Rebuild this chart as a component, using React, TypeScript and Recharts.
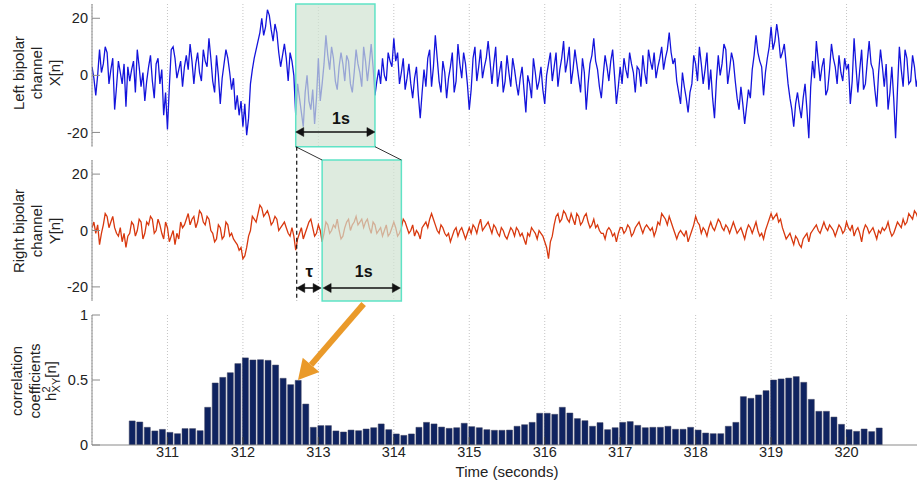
import { LineChart, BarChart, Line, Bar, XAxis, YAxis, CartesianGrid, ReferenceArea } from 'recharts'

// time base of the two EEG traces (seconds)
const T0 = 310
const STEP = 0.025

// left bipolar channel X[n] (one row per 0.5 s)
const leftChannel = [
  3, -1, -7, 0, 9, 1, 4, 10, 8, -3, 2, 6, -12, -4, 5, 1, -3, 4, -11, 3, -2,
  2, 5, -6, 9, 3, -4, 1, -9, -2, 3, 7, -2, -8, 4, 6, -3, 2, -14, -6, -19,
  -4, 9, 10, 6, -1, 2, 5, -4, 3, 7, 2, 11, 5, -3, 4, 8, 1, -2, 9, 5,
  3, 13, 6, -2, -6, 7, 0, -10, -1, 4, 9, 6, 1, -5, -1, -12, -7, -14, -9, -18,
  -10, -21, -15, -3, 2, 6, 9, 12, 15, 20, 14, 17, 23, 21, 16, 12, 18, 15, 8, 3,
  7, 11, 6, -2, 8, 5, 0, -14, -3, -8, -13, -18, -6, 0, -9, -12, -5, -17, -8, 6,
  -9, -3, 4, 14, 7, 2, 10, 6, -2, -5, 3, 8, 4, -2, 7, 5, -3, -6, 1, 9,
  4, 1, -4, 10, 5, -2, 4, 11, 3, -7, -2, 2, -3, 6, 0, -2, 8, 5, 3, 13,
  5, 8, -3, 1, 6, -5, -1, 4, -3, -8, -1, 3, -7, -15, -6, 2, -4, 6, 9, -4,
  3, 14, 6, -2, -6, 5, 1, -8, -1, 3, 8, -6, -2, 11, 4, -1, 8, 4, -3, -12,
  -5, 6, 10, -2, 3, 9, -1, 3, 6, 12, 5, -3, 4, 10, -4, 1, 5, -6, -2, 7,
  1, -4, 6, 2, -3, -7, -1, 3, -5, -13, 0, -3, -8, 6, 1, -5, -2, 3, -5, -10,
  0, 4, 8, -2, 3, 8, -4, 2, 6, 12, 1, 5, 10, -3, 2, 9, 4, -1, -6, 6,
  1, -12, -3, 4, 7, 13, 5, 2, -4, -8, 0, 7, 3, -2, 5, 9, 0, -10, -4, 3,
  -3, 6, 2, -1, 8, 4, 1, -6, 3, 2, -4, 7, 1, -3, 9, 5, 2, 8, -1, 3,
  6, 10, 2, 6, 9, 15, 8, 4, 6, -2, -6, -10, 1, -4, -8, -13, -6, -3, 7, 4,
  -2, 10, 4, -3, 2, 8, -5, 2, -8, -15, -2, 7, 0, 4, 11, 9, -3, 2, 8, 5,
  -2, -8, -12, -4, -10, -17, -11, -5, -8, 2, 7, 14, 8, 5, 3, -7, 1, 6, 10, 17,
  9, 12, 18, 13, 6, 8, 11, 4, -3, -8, -12, -18, -10, -6, -11, -15, -8, -3, -12, -22,
  -4, 5, -1, 12, 5, -2, 3, 6, -7, -5, 2, 11, 6, 3, -3, 7, 1, -2, 6, 2,
  4, -10, -2, 13, 3, -6, 2, 9, -5, -3, 5, 12, 4, 2, -5, -11, 1, 9, 3, -4,
  4, -12, -6, 3, -8, -22, -5, 10, 2, -4, 9, 6, -3, -2, 7, 3, -4, 0, 5, 1,
]

// right bipolar channel Y[n], middle panel
const rightChannel = [
  1, 3, -1, 2, -5, -1, 2, 6, 5, 1, 3, 5, 1, -1, -2, 1, -4, -1, -6, -2, -1,
  3, 2, -2, 0, 4, 3, -3, -1, 3, 2, 5, 4, -1, 0, 4, 2, -1, -3, 3, 1,
  -4, -2, 0, -5, -1, -3, 3, 1, 2, 4, 6, 2, 4, 5, 1, 3, 7, 6, 3, 2,
  5, 4, 0, -1, -4, -3, 2, 1, -3, -2, 3, 2, -2, -1, -3, -4, -5, -7, -6, -10,
  -9, -6, -2, 0, 5, 4, 3, 6, 9, 8, 5, 6, 7, 5, 2, 3, 5, 4, 0, 1,
  2, 3, 1, -1, -2, 1, -2, -7, -3, -1, 1, -3, -1, 1, 3, 4, 1, -2, -1, 2,
  0, -4, -1, 3, 2, -1, 0, 2, 1, 4, 0, -3, -2, 1, 3, 4, 0, 2, 3, 5,
  2, 3, 4, 1, 3, 4, 1, -1, 3, 2, -1, 0, 1, -2, 0, 2, -2, -1, 1, 3,
  1, -2, -1, 1, 4, 3, 1, -1, 0, 2, -2, 0, -1, -3, 1, 2, 3, 1, 4, 6,
  4, 2, 0, -1, 2, 1, -1, -2, -1, -4, -2, 0, 1, -2, 0, 1, -1, -3, -1, 1,
  -1, 2, 1, -1, 2, 4, 0, 1, 2, 3, 1, -1, 2, 1, -1, -2, 1, 0, -2, -3,
  -1, 1, 0, -2, 1, 0, -2, -1, -3, -5, -1, -2, 1, 0, -1, -3, 0, -1, -2, -4,
  -6, -10, -4, -2, 2, 5, 6, 3, 4, 7, 6, 4, 3, 6, 4, 2, 6, 5, 2, 3,
  5, 6, 3, 1, 2, 4, 1, 2, 0, -1, -1, -3, 0, 1, 0, -2, -1, -4, -1, 1,
  1, -1, 0, 2, 1, -2, -1, 1, 2, 3, 1, -1, 1, 2, 1, 0, 1, -2, 0, 3,
  2, 6, 5, 4, 2, 5, 3, 1, -1, -3, -1, 0, -1, -2, 0, -4, -2, 0, 2, 5,
  3, 2, -1, 1, 0, -2, 1, 3, 1, 0, 2, 4, 3, 1, 0, 2, 1, -1, 1, 3,
  1, -1, 0, 1, -1, -3, 0, 2, 1, -1, 1, 3, 0, -2, -1, -3, 0, 2, 4, 6,
  4, 5, 6, 3, 4, 1, -1, -3, -2, -1, -3, -5, -2, -3, -5, -6, -3, -2, -1, -4,
  -1, 0, 1, 2, 0, -1, 1, 3, 1, 0, 2, 1, 0, -2, 0, 2, 1, -1, 0, 3,
  1, 0, 2, -2, 0, 1, -1, -4, 0, 2, 1, -1, 0, 1, -1, -3, 0, -1, 1, 0,
  1, 3, 0, -2, -1, 1, 3, 2, 1, 4, 2, 3, 6, 5, 4, 7, 6, 4, 5, 3,
]

// windowed correlation h2_XY[n], one bar every 0.1 s
const CORR_T0 = 310.53
const CORR_STEP = 0.1
const correlation = [
  0.185, 0.177, 0.136, 0.108, 0.12, 0.097, 0.087, 0.126, 0.126, 0.11,
  0.29, 0.477, 0.52, 0.556, 0.626, 0.67, 0.654, 0.656, 0.651, 0.615,
  0.513, 0.464, 0.497, 0.315, 0.136, 0.149, 0.149, 0.108, 0.1, 0.115,
  0.11, 0.123, 0.133, 0.162, 0.118, 0.085, 0.074, 0.085, 0.136, 0.174,
  0.162, 0.138, 0.128, 0.133, 0.167, 0.141, 0.133, 0.118, 0.113, 0.113,
  0.115, 0.144, 0.156, 0.174, 0.244, 0.244, 0.236, 0.29, 0.246, 0.203,
  0.187, 0.144, 0.172, 0.118, 0.133, 0.174, 0.18, 0.151, 0.133, 0.136,
  0.136, 0.144, 0.121, 0.121, 0.136, 0.115, 0.092, 0.087, 0.087, 0.144,
  0.174, 0.372, 0.359, 0.385, 0.418, 0.5, 0.508, 0.515, 0.526, 0.482,
  0.351, 0.259, 0.259, 0.215, 0.159, 0.118, 0.105, 0.123, 0.103, 0.131,
]

const timeTicks = [311, 312, 313, 314, 315, 316, 317, 318, 319, 320]
const ampTicks = [-20, 0, 20]
const corrTicks = [0, 0.5, 1]
const X_DOMAIN: [number, number] = [310, 321]

// 1 s analysis windows: X window, and Y window shifted by tau
const windowX = [312.7, 313.75]
const windowY = [313.05, 314.1]

const traceRows = leftChannel.map((v, i) => ({ t: +(T0 + i * STEP).toFixed(3), x: v, y: rightChannel[i] }))
const corrRows = correlation.map((v, i) => ({ t: +(CORR_T0 + i * CORR_STEP).toFixed(3), h: v }))

const FONT = '"Liberation Sans", Arial, sans-serif'
const W = 930
const PLOT_L = 92
const PLOT_R = 922
const frame = '#8a8a8a'
const tickStyle = { fill: '#222', fontSize: 14.5, fontFamily: FONT }
const hl = { fill: '#d0e2d2', fillOpacity: 0.7, stroke: '#5fe3c6', strokeWidth: 1.5 }

// pixel position of a time value, same mapping the charts use
const px = (t: number) => PLOT_L + ((t - X_DOMAIN[0]) / (X_DOMAIN[1] - X_DOMAIN[0])) * (PLOT_R - PLOT_L)

function Axes({ yTicks, yDomain, labels }: { yTicks: number[]; yDomain: [number, number]; labels: boolean }) {
  return [
    <CartesianGrid key="g" horizontal={false} stroke="#c4c4c4" strokeDasharray="1 2" />,
    <XAxis key="xb" dataKey="t" type="number" domain={X_DOMAIN} ticks={timeTicks} allowDataOverflow
      height={labels ? 30 : 0} tickSize={-8} tickMargin={10} stroke={frame} tickLine={{ stroke: '#444' }}
      tick={tickStyle} tickFormatter={labels ? (v: number) => String(v) : () => ''} />,
    <XAxis key="xt" xAxisId="top" orientation="top" dataKey="t" type="number" domain={X_DOMAIN} ticks={timeTicks}
      allowDataOverflow height={0} tickSize={-8} stroke={frame} tickLine={{ stroke: '#444' }} tickFormatter={() => ''} />,
    <YAxis key="yl" type="number" domain={yDomain} ticks={yTicks} width={60} tickSize={-8} tickMargin={12}
      stroke={frame} tickLine={{ stroke: frame }} tick={tickStyle} allowDataOverflow />,
    <YAxis key="yr" yAxisId="r" orientation="right" type="number" domain={yDomain} ticks={yTicks} width={0}
      tickSize={-8} stroke={frame} tickLine={{ stroke: frame }} tickFormatter={() => ''} />,
  ]
}

function DoubleArrow({ x1, x2, y }: { x1: number; x2: number; y: number }) {
  return (
    <g stroke="#111" fill="#111">
      <line x1={x1 + 4} x2={x2 - 4} y1={y} y2={y} strokeWidth={1.6} />
      <path d={`M${x1},${y} l8,-4.5 l0,9 z`} strokeWidth={0.5} />
      <path d={`M${x2},${y} l-8,-4.5 l0,9 z`} strokeWidth={0.5} />
    </g>
  )
}

function YLabel({ lines, x, y }: { lines: string[]; x: number; y: number }) {
  return (
    <text transform={`translate(${x},${y}) rotate(-90)`} textAnchor="middle" fontSize={15} fontFamily={FONT} fill="#222">
      {lines.map((l, i) => (
        <tspan key={i} x={0} y={i * 18}>{l}</tspan>
      ))}
    </text>
  )
}

export default function App() {
  // orange arrow from the Y window down to the bar it produces
  const tip = { x: px(312.73), y: 380 }
  const tail = { x: px(313.6), y: 304 }
  const dx = tip.x - tail.x
  const dy = tip.y - tail.y
  const len = Math.hypot(dx, dy)
  const ux = dx / len
  const uy = dy / len
  const bx = tip.x - ux * 20
  const by = tip.y - uy * 20

  return (
    <div style={{ position: 'absolute', left: 0, top: 0, width: 917, height: 482, overflow: 'hidden', background: '#fff', fontFamily: FONT }}>
      <div style={{ position: 'absolute', left: 0, top: 0 }}>
        <LineChart width={W} height={150} data={traceRows} margin={{ top: 4, right: 8, bottom: 3.3, left: 32 }}>
          {Axes({ yTicks: ampTicks, yDomain: [-25, 25], labels: false })}
          <Line dataKey="x" stroke="#1414dc" strokeWidth={1.3} dot={false} isAnimationActive={false} />
          <ReferenceArea x1={windowX[0]} x2={windowX[1]} {...hl} zIndex={1000} />
        </LineChart>
      </div>
      <div style={{ position: 'absolute', left: 0, top: 150 }}>
        <LineChart width={W} height={155} data={traceRows} margin={{ top: 10, right: 8, bottom: 4, left: 32 }}>
          {Axes({ yTicks: ampTicks, yDomain: [-25, 25], labels: false })}
          <Line dataKey="y" stroke="#d8380e" strokeWidth={1.3} dot={false} isAnimationActive={false} />
          <ReferenceArea x1={windowY[0]} x2={windowY[1]} {...hl} zIndex={1000} />
        </LineChart>
      </div>
      <div style={{ position: 'absolute', left: 0, top: 305 }}>
        <BarChart width={W} height={177} data={corrRows} margin={{ top: 10, right: 8, bottom: 7, left: 32 }}>
          {Axes({ yTicks: corrTicks, yDomain: [0, 1], labels: true })}
          <Bar dataKey="h" fill="#0f2360" stroke="#3b3f5c" strokeWidth={0.5} barSize={6} isAnimationActive={false} />
        </BarChart>
      </div>

      <svg width={917} height={482} style={{ position: 'absolute', left: 0, top: 0, pointerEvents: 'none' }}>
        <YLabel x={24} y={73} lines={['Left bipolar', 'channel', 'X[n]']} />
        <YLabel x={24} y={231} lines={['Right bipolar', 'channel', 'Y[n]']} />
        <text transform="translate(22,381) rotate(-90)" textAnchor="middle" fontSize={15} fontFamily={FONT} fill="#222">
          <tspan x={0} y={0}>correlation</tspan>
          <tspan x={0} y={18}>coefficients</tspan>
          <tspan x={0} y={34}>h</tspan>
          <tspan fontSize={11} dy={-6}>2</tspan>
          <tspan fontSize={11} dx={-6} dy={10}>XY</tspan>
          <tspan dy={-4}>[n]</tspan>
        </text>
        <text x={px(315.5)} y={477} textAnchor="middle" fontSize={15} fontFamily={FONT} fill="#222">Time (seconds)</text>

        {/* links from the X window to the shifted Y window */}
        <line x1={px(windowX[0])} y1={146.7} x2={px(windowY[0])} y2={160} stroke="#333" strokeWidth={1} />
        <line x1={px(windowX[1])} y1={146.7} x2={px(windowY[1])} y2={160} stroke="#333" strokeWidth={1} />
        <line x1={px(windowX[0]) + 1} y1={146.7} x2={px(windowX[0]) + 1} y2={301} stroke="#111" strokeWidth={1.2} strokeDasharray="4 3" />

        <DoubleArrow x1={px(windowX[0])} x2={px(windowX[1])} y={132} />
        <text x={px(313.3)} y={124} textAnchor="middle" fontSize={16} fontWeight="bold" fontFamily={FONT} fill="#111">1s</text>
        <DoubleArrow x1={px(windowX[0]) + 1} x2={px(windowY[0]) - 1} y={288} />
        <text x={px(312.88)} y={277} textAnchor="middle" fontSize={17} fontWeight="bold" fontFamily={FONT} fill="#111">τ</text>
        <DoubleArrow x1={px(windowY[0]) + 1} x2={px(windowY[1]) - 1} y={288} />
        <text x={px(313.6)} y={277} textAnchor="middle" fontSize={16} fontWeight="bold" fontFamily={FONT} fill="#111">1s</text>

        <line x1={tail.x} y1={tail.y} x2={bx} y2={by} stroke="#ea9a2a" strokeWidth={6} />
        <path d={`M${tip.x},${tip.y} L${bx + uy * 11},${by - ux * 11} L${bx - uy * 11},${by + ux * 11} z`} fill="#ea9a2a" />
      </svg>
    </div>
  )
}
